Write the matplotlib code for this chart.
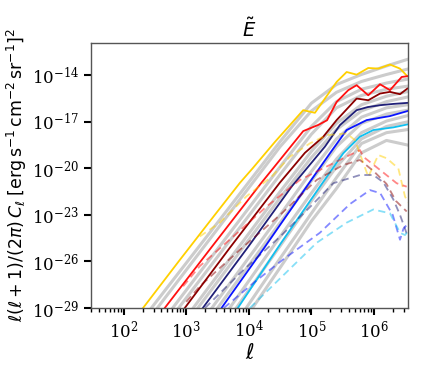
import matplotlib
matplotlib.use("Agg")
import matplotlib.pyplot as plt
import numpy as np

plt.rcParams['font.family'] = ['DejaVu Serif']
plt.rcParams['mathtext.fontset'] = 'dejavusans'

# log10(ell) and log10(value)
# solid (measured) curves
yel_x = [2.0, 2.309, 2.878, 3.456, 3.856, 4.06, 4.416, 4.869, 5.056, 5.403, 5.563, 5.723, 5.909, 6.069, 6.256, 6.416, 6.533]
yel_y = [-30.6, -29.0, -26.0, -23.0, -20.94, -20.0, -18.3, -16.25, -16.42, -14.43, -13.79, -13.96, -13.53, -13.57, -13.31, -13.57, -14.06]
red_x = [2.3, 2.656, 3.4, 4.203, 4.869, 5.11, 5.25, 5.403, 5.589, 5.723, 5.909, 6.096, 6.256, 6.443, 6.533]
red_y = [-30.9, -29.0, -25.1, -20.92, -17.6, -17.2, -16.9, -15.72, -14.96, -14.64, -15.29, -14.58, -14.96, -14.11, -14.06]
drd_x = [2.6, 2.976, 3.7, 4.496, 4.896, 5.19, 5.403, 5.723, 5.909, 6.096, 6.256, 6.416, 6.533]
drd_y = [-31.0, -29.0, -25.1, -20.92, -19.0, -17.96, -16.89, -15.5, -15.61, -15.18, -15.07, -15.22, -14.86]
nav_x = [2.9, 3.264, 4.0, 4.683, 5.216, 5.456, 5.723, 5.9, 6.096, 6.3, 6.533]
nav_y = [-31.0, -29.0, -25.0, -21.18, -18.6, -17.21, -16.25, -16.05, -15.93, -15.85, -15.78]
blu_x = [3.2, 3.563, 4.25, 4.923, 5.296, 5.563, 5.883, 6.256, 6.533]
blu_y = [-31.1, -29.0, -25.1, -21.18, -19.03, -17.53, -16.89, -16.63, -16.31]
cya_x = [3.5, 3.824, 4.5, 5.136, 5.509, 5.776, 5.989, 6.309, 6.533]
cya_y = [-31.0, -29.0, -24.9, -21.18, -19.03, -17.96, -17.53, -17.36, -17.17]

# dashed curves
yel_dx = [3.216, 3.536, 3.963, 4.363, 4.656, 4.976, 5.243, 5.563, 5.696, 5.909, 6.069, 6.203, 6.389, 6.496, 6.544]
yel_dy = [-24.39, -23.5, -21.8, -20.54, -19.25, -18.39, -17.86, -17.75, -18.18, -20.54, -19.14, -19.35, -20.0, -21.82, -22.2]
red_dx = [2.95, 3.216, 3.749, 4.283, 4.816, 5.349, 5.776, 5.829, 6.096, 6.363, 6.523]
red_dy = [-27.6, -26.3, -24.4, -22.46, -20.75, -19.67, -18.82, -19.25, -20.1, -20.96, -21.18]
drd_dx = [3.0, 3.216, 3.856, 4.5, 5.083, 5.5, 5.776, 6.0, 6.2, 6.35, 6.523]
drd_dy = [-28.6, -27.6, -25.25, -23.0, -20.75, -19.8, -19.46, -20.2, -21.0, -22.1, -22.78]
nav_dx = [3.3, 3.9, 4.5, 5.0, 5.349, 5.776, 5.99, 6.15, 6.309, 6.416, 6.523]
nav_dy = [-29.0, -26.6, -24.4, -22.4, -20.96, -20.43, -20.43, -20.9, -22.0, -23.0, -24.2]
blu_dx = [3.6, 4.1, 4.549, 5.136, 5.616, 5.936, 6.1, 6.3, 6.416, 6.47, 6.533]
blu_dy = [-29.0, -27.3, -25.87, -24.15, -22.3, -21.4, -21.6, -23.0, -24.6, -23.9, -23.6]
cya_dx = [4.016, 4.549, 5.083, 5.563, 5.989, 6.256, 6.416, 6.496, 6.533]
cya_dy = [-29.0, -26.9, -24.8, -23.5, -22.65, -22.9, -24.15, -24.3, -24.1]

# smooth model curves (grey)
grey_x = [1.5, 2.5, 3.5, 4.5, 5.0, 5.4, 5.8, 6.2, 6.54]
grey_y = [
    [-33.9, -28.7, -23.5, -18.27, -15.8, -14.6, -13.95, -13.4, -12.97],
    [-34.5, -29.2, -23.9, -18.6, -16.3, -15.1, -14.4, -13.95, -13.6],
    [-35.8, -30.5, -25.2, -19.9, -17.3, -15.7, -14.9, -14.5, -14.25],
    [-36.3, -31.0, -25.7, -20.4, -17.8, -16.1, -15.3, -14.9, -14.7],
    [-37.7, -32.3, -26.9, -21.5, -18.9, -17.1, -15.9, -15.35, -15.05],
    [-38.1, -32.7, -27.3, -21.9, -19.3, -17.5, -16.3, -15.7, -15.4],
    [-39.5, -34.0, -28.5, -23.0, -20.2, -18.1, -16.7, -16.1, -15.9],
    [-40.0, -34.5, -29.0, -23.5, -20.8, -18.6, -17.1, -16.5, -16.25],
    [-41.5, -35.8, -30.1, -24.4, -21.6, -19.4, -17.7, -16.95, -16.6],
    [-42.0, -36.4, -30.7, -25.0, -22.1, -19.9, -18.1, -17.3, -17.0],
    [-43.5, -37.6, -31.7, -25.8, -22.9, -20.6, -18.4, -17.7, -17.5],
    [-44.1, -38.2, -32.3, -26.4, -23.4, -21.3, -19.0, -18.2, -18.5],
]

colors = ['#FFD000', '#FF1010', '#8B0000', '#202078', '#0A14FF', '#10C0F0']
solid = [(yel_x, yel_y), (red_x, red_y), (drd_x, drd_y), (nav_x, nav_y), (blu_x, blu_y), (cya_x, cya_y)]
dashed = [(yel_dx, yel_dy), (red_dx, red_dy), (drd_dx, drd_dy), (nav_dx, nav_dy), (blu_dx, blu_dy), (cya_dx, cya_dy)]

fig = plt.figure(figsize=(4.24, 3.66), dpi=100)
ax = fig.add_axes([0.2146, 0.1585, 0.7477, 0.724])

for gy in grey_y:
    ax.plot(10**np.array(grey_x), 10**np.array(gy), color='#cccccc', lw=2.2)
for (sx, sy), c in zip(solid, colors):
    ax.plot(10**np.array(sx), 10**np.array(sy), color=c, lw=1.3)
for (dx, dy), c in zip(dashed, colors):
    ax.plot(10**np.array(dx), 10**np.array(dy), color=c, lw=1.3, ls=(0, (4, 2.5)), alpha=0.5)

ax.set_xscale('log')
ax.set_yscale('log')
ax.set_xlim(30, 3.5e6)
ax.set_ylim(1e-29, 1.2e-12)
ax.set_yticks([1e-29, 1e-26, 1e-23, 1e-20, 1e-17, 1e-14])
ax.yaxis.set_minor_locator(matplotlib.ticker.NullLocator())
ax.set_xticks([1e2, 1e3, 1e4, 1e5, 1e6])
ax.xaxis.set_minor_locator(matplotlib.ticker.LogLocator(base=10, subs=np.arange(2, 10), numticks=20))

ax.tick_params(which='major', length=5, width=1.5, labelsize=12, direction='out')
ax.tick_params(which='minor', length=3, width=1.0)
for s in ax.spines.values():
    s.set_color('#555555')
    s.set_linewidth(1.0)

ax.set_title(r'$\tilde{E}$', fontsize=14, pad=4)
ax.set_xlabel(r'$\ell$', fontsize=15, labelpad=1)
ax.set_ylabel(r'$\ell(\ell+1)/(2\pi)\,C_\ell\;[\mathrm{erg\,s^{-1}\,cm^{-2}\,sr^{-1}}]^2$', fontsize=12.5, labelpad=2)

fig.savefig('out.png', dpi=100)
